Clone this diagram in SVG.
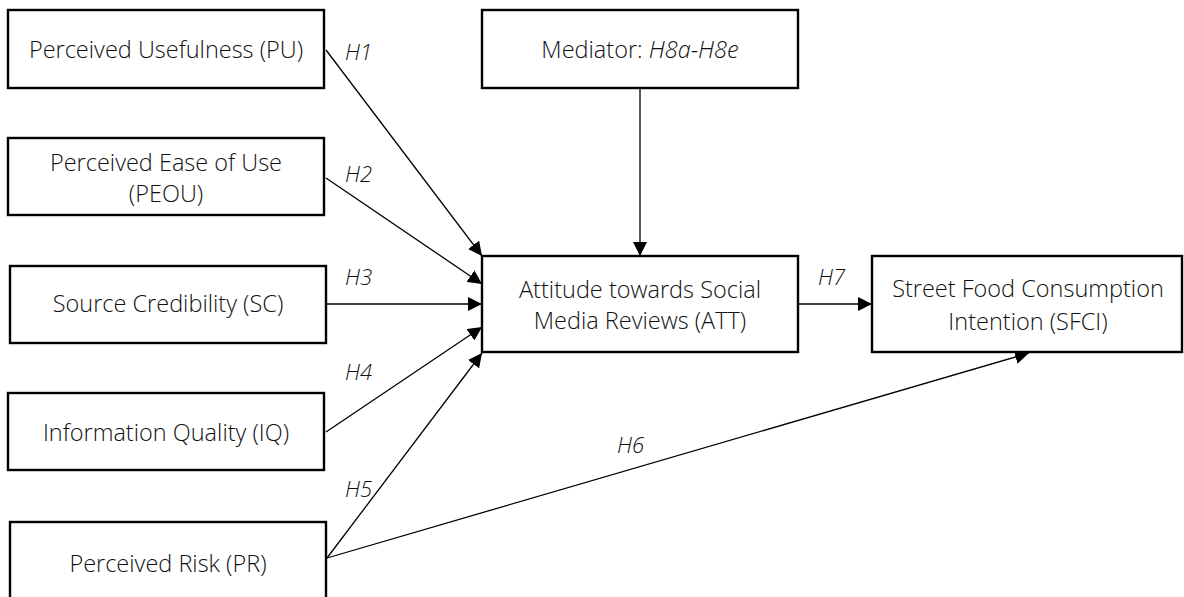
<svg xmlns="http://www.w3.org/2000/svg" width="1184" height="597" viewBox="0 0 1184 597">
<style>
.box{fill:#fff;stroke:#000;stroke-width:2.4}
.t{font-family:"Open Sans","Liberation Sans",sans-serif;font-size:23.5px;font-weight:300;fill:#111;text-anchor:middle}
.h{font-family:"Open Sans","Liberation Sans",sans-serif;font-size:22px;font-weight:300;fill:#111;font-style:italic}
.c{stroke:#000;stroke-width:1.3;fill:none;marker-end:url(#arr)}
</style>
<defs>
<marker id="arr" viewBox="0 0 12 12" refX="12" refY="6" markerWidth="14" markerHeight="14" markerUnits="userSpaceOnUse" orient="auto">
<path d="M0,0 L12,6 L0,12 Z" fill="#000"/>
</marker>
</defs>
<rect width="1184" height="597" fill="#fff"/>
<g id="connectors">
<line class="c" x1="326" y1="50" x2="482" y2="256"/>
<line class="c" x1="326" y1="178" x2="482" y2="284"/>
<line class="c" x1="326" y1="304" x2="482" y2="304"/>
<line class="c" x1="326" y1="432" x2="482" y2="327"/>
<line class="c" x1="327" y1="558" x2="482" y2="353"/>
<line class="c" x1="327" y1="558" x2="1029" y2="353"/>
<line class="c" x1="640" y1="88" x2="640" y2="256"/>
<line class="c" x1="798" y1="304" x2="872" y2="304"/>
<text class="h" x="345" y="60">H1</text>
<text class="h" x="345" y="182">H2</text>
<text class="h" x="345" y="285">H3</text>
<text class="h" x="345" y="380">H4</text>
<text class="h" x="345" y="497">H5</text>
<text class="h" x="617" y="453">H6</text>
<text class="h" x="818" y="285">H7</text>
</g>
<g id="pu"><rect class="box" x="8" y="10" width="316" height="78"/><text class="t" x="166" y="58">Perceived Usefulness (PU)</text></g>
<g id="peou"><rect class="box" x="8" y="138" width="316" height="77"/><text class="t" x="166" y="171">Perceived Ease of Use</text><text class="t" x="166" y="202">(PEOU)</text></g>
<g id="sc"><rect class="box" x="10" y="266" width="316" height="77"/><text class="t" x="168" y="312">Source Credibility (SC)</text></g>
<g id="iq"><rect class="box" x="8" y="393" width="316" height="77"/><text class="t" x="166" y="441">Information Quality (IQ)</text></g>
<g id="pr"><rect class="box" x="10" y="522" width="316" height="80"/><text class="t" x="168" y="572">Perceived Risk (PR)</text></g>
<g id="med"><rect class="box" x="482" y="10" width="316" height="78"/><text class="t" x="640" y="58">Mediator: <tspan font-style="italic">H8a-H8e</tspan></text></g>
<g id="att"><rect class="box" x="482" y="256" width="316" height="96"/><text class="t" x="640" y="298">Attitude towards Social</text><text class="t" x="640" y="329">Media Reviews (ATT)</text></g>
<g id="sfci"><rect class="box" x="872" y="256" width="310" height="96"/><text class="t" x="1028" y="297">Street Food Consumption</text><text class="t" x="1028" y="330">Intention (SFCI)</text></g>
</svg>
